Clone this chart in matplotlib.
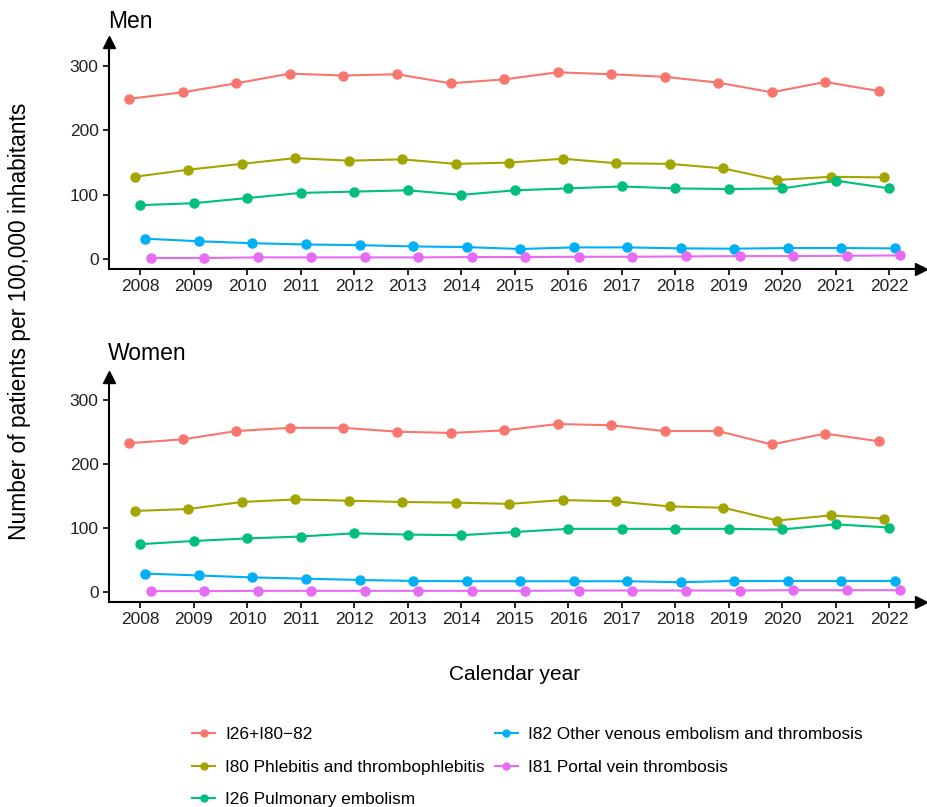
import matplotlib
matplotlib.use("Agg")
import matplotlib.pyplot as plt
from matplotlib.lines import Line2D
import numpy as np

plt.rcParams['font.family'] = ['Liberation Sans', 'DejaVu Sans']

years = np.arange(2008, 2023)

series_names = [
    "I26+I80\u221282",
    "I80 Phlebitis and thrombophlebitis",
    "I26 Pulmonary embolism",
    "I82 Other venous embolism and thrombosis",
    "I81 Portal vein thrombosis",
]
colors = ["#F8766D", "#A3A500", "#00BF7D", "#00B0F6", "#E76BF3"]

men_total = [249, 259, 273, 288, 285, 287, 273, 279, 290, 287, 283, 274, 259, 275, 261]
men_i80 = [128, 139, 148, 157, 153, 155, 148, 150, 156, 149, 148, 141, 123, 128, 127]
men_i26 = [84, 87, 95, 103, 105, 107, 100, 107, 110, 113, 110, 109, 110, 122, 110]
men_i82 = [32, 28, 25, 23, 22, 20, 19, 16, 18.5, 18.5, 17, 16.5, 17.5, 17.5, 17]
men_i81 = [2, 2, 3, 3, 3, 3, 3.5, 3.5, 4, 4, 4.5, 5, 5, 5.5, 6]

women_total = [233, 239, 252, 257, 257, 251, 249, 253, 263, 261, 252, 252, 231, 248, 236]
women_i80 = [127, 130, 141, 145, 143, 141, 140, 138, 144, 142, 134, 132, 112, 120, 115]
women_i26 = [75, 80, 84, 87, 92, 90, 89, 94, 99, 99, 99, 99, 98, 106, 101]
women_i82 = [29, 26, 23, 21, 19, 17.5, 17, 17, 17, 17, 15.5, 17.5, 17.5, 17.5, 17.5]
women_i81 = [1.5, 1.5, 2, 2, 2, 2, 2, 2, 2.5, 2.5, 2.5, 2.5, 3, 3, 3]

panels = [
    ("Men", [men_total, men_i80, men_i26, men_i82, men_i81]),
    ("Women", [women_total, women_i80, women_i26, women_i82, women_i81]),
]
# ggplot-like dodge of the five series around each year
dodge = [-0.2, -0.1, 0.0, 0.1, 0.2]

fig = plt.figure(figsize=(9.28, 8.07), dpi=100)
axes_rects = [
    [109 / 928, 1 - 269 / 807, 812 / 928, 227 / 807],
    [109 / 928, 1 - 601.7 / 807, 812 / 928, 225 / 807],
]
title_y = [1 - 28 / 807, 1 - 360 / 807]

for (name, data), rect, ty in zip(panels, axes_rects, title_y):
    ax = fig.add_axes(rect)
    for vals, col, dx in zip(data, colors, dodge):
        ax.plot(years + dx, vals, color=col, lw=1.5, marker="o", ms=6.5,
                mec=col, mfc=col, zorder=3)
    ax.set_xlim(2007.42, 2022.59)
    ax.set_ylim(-15, 337)
    ax.set_xticks(years)
    ax.set_yticks([0, 100, 200, 300])
    for s in ["top", "right"]:
        ax.spines[s].set_visible(False)
    for s in ["left", "bottom"]:
        ax.spines[s].set_linewidth(1.5)
        ax.spines[s].set_color("black")
    ax.tick_params(axis="both", direction="out", length=4, width=1.2,
                   color="black", labelsize=12.5, labelcolor="#222222")
    ax.plot(1, 0, ">", color="black", ms=9, transform=ax.transAxes,
            clip_on=False)
    ax.plot(0, 1, "^", color="black", ms=9, transform=ax.transAxes,
            clip_on=False)
    fig.text(108 / 928, ty, name, fontsize=16.5, va="baseline", ha="left")

fig.text(20 / 928, 1 - 321 / 807, "Number of patients per 100,000 inhabitants",
         rotation=90, fontsize=16.4, ha="center", va="center")
fig.text(515 / 928, 1 - 675 / 807, "Calendar year", fontsize=15,
         ha="center", va="center")

handles = [Line2D([0], [0], color=c, lw=1.5, marker="o", ms=5) for c in colors]
fig.legend(handles, series_names, loc="upper left",
           bbox_to_anchor=(185 / 928, 1 - 720 / 807), ncol=2, frameon=False,
           prop={"family": ["Liberation Sans Narrow", "Liberation Sans"], "size": 12.4},
           handlelength=1.35, labelspacing=1.02, columnspacing=0.55,
           handletextpad=0.6, borderaxespad=0)

fig.savefig("out.png", dpi=100)
